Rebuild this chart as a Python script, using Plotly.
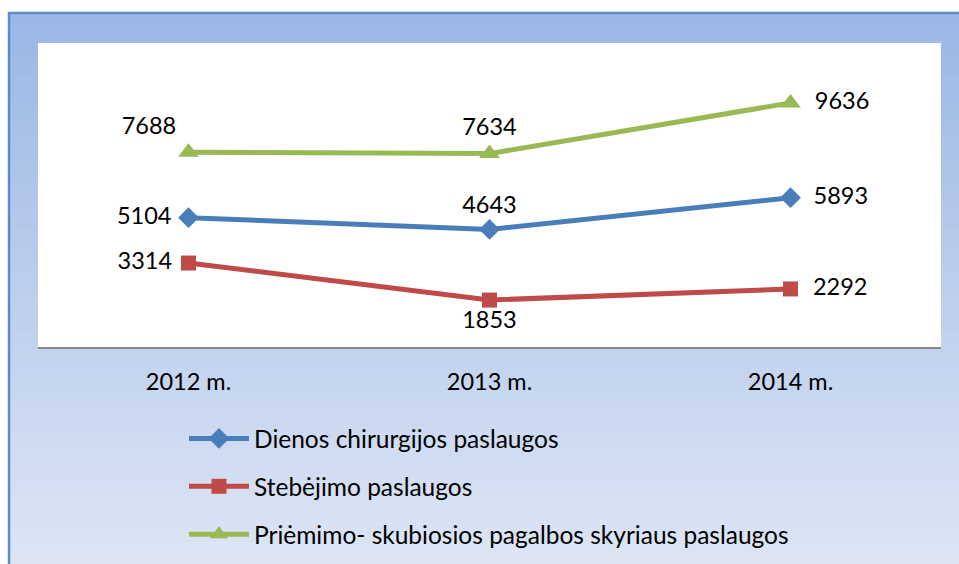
import plotly.graph_objects as go

categories = ["2012 m.", "2013 m.", "2014 m."]
series_names = ["Dienos chirurgijos paslaugos", "Stebėjimo paslaugos",
                "Priėmimo- skubiosios pagalbos skyriaus paslaugos"]
dienos = [5104, 4643, 5893]
stebejimo = [3314, 1853, 2292]
priemimo = [7688, 7634, 9636]

W, H = 959, 564
L, R, T, B = 38, 18, 43, 217
pw, ph = W - L - R, H - T - B

def px_x(p):
    return (p - L) / pw

def px_y(p):
    return (H - B - p) / ph

FONT = "Lato"

def label(v, pos):
    if pos.endswith("right"):
        return "\u00a0\u00a0" + str(v)
    if pos == "middle left":
        return str(v) + "\u00a0"
    return str(v)

fig = go.Figure()

styles = [
    (dienos, series_names[0], "#4A7EBB", "diamond", 16, ["middle left", "top center", "middle right"]),
    (stebejimo, series_names[1], "#BE4B48", "square", 15, ["middle left", "bottom center", "middle right"]),
    (priemimo, series_names[2], "#98B954", "triangle-up", 18, ["top left", "top center", "middle right"]),
]
for i, (vals, name, col, sym, sz, tp) in enumerate(styles):
    fig.add_trace(go.Scatter(
        x=categories, y=vals, name=name, mode="lines+markers+text",
        text=[label(v, p) for v, p in zip(vals, tp)], textposition=tp,
        textfont=dict(family=FONT, size=23.5, color="#000000"),
        line=dict(color=col, width=5),
        marker=dict(symbol=sym, size=sz, color=col),
        legendgroup=f"g{i}",
    ))

# gradient background (outer chart area)
top_c = (155, 183, 228)
bot_c = (222, 230, 245)
x0p, x1p = 9, 975
y0p, y1p = 13, 580
n = 60
shapes = []
for k in range(n):
    t = k / (n - 1)
    c = tuple(int(round(top_c[j] + (bot_c[j] - top_c[j]) * t)) for j in range(3))
    ya = y0p + (y1p - y0p) * k / n
    yb = y0p + (y1p - y0p) * (k + 1) / n + 0.5
    shapes.append(dict(type="rect", xref="paper", yref="paper", layer="below",
                       x0=px_x(x0p), x1=px_x(x1p), y0=px_y(ya), y1=px_y(yb),
                       fillcolor="rgb(%d,%d,%d)" % c, line=dict(width=0)))
shapes.append(dict(type="rect", xref="paper", yref="paper", layer="below",
                   x0=px_x(x0p), x1=px_x(x1p), y0=px_y(y0p), y1=px_y(y1p),
                   fillcolor="rgba(0,0,0,0)", line=dict(color="#5B8BCB", width=2.5)))
# white plot area
shapes.append(dict(type="rect", xref="paper", yref="paper", layer="below",
                   x0=0, x1=1, y0=0, y1=1, fillcolor="white", line=dict(width=0)))

fig.update_layout(
    width=W, height=H,
    margin=dict(l=L, r=R, t=T, b=B, pad=0, autoexpand=False),
    paper_bgcolor="white", plot_bgcolor="rgba(0,0,0,0)",
    shapes=shapes,
    showlegend=True,
    legend=dict(x=px_x(184), y=px_y(416), xanchor="left", yanchor="top",
                orientation="v", bgcolor="rgba(0,0,0,0)",
                font=dict(family=FONT, size=24.5, color="#000000"),
                tracegroupgap=13, itemwidth=60),
    xaxis=dict(range=[-0.5, 2.5], showgrid=False, zeroline=False,
               showline=True, linecolor="#868686", linewidth=2,
               ticks="outside", ticklen=13, tickcolor="rgba(0,0,0,0)",
               tickfont=dict(family=FONT, size=23.5, color="#000000")),
    yaxis=dict(range=[0, 12000], showgrid=False, zeroline=False,
               showline=False, showticklabels=False, ticks=""),
)

fig.write_html("out.html", config={"displayModeBar": False},
               post_script="document.body.style.margin='0';document.body.style.padding='0';")
